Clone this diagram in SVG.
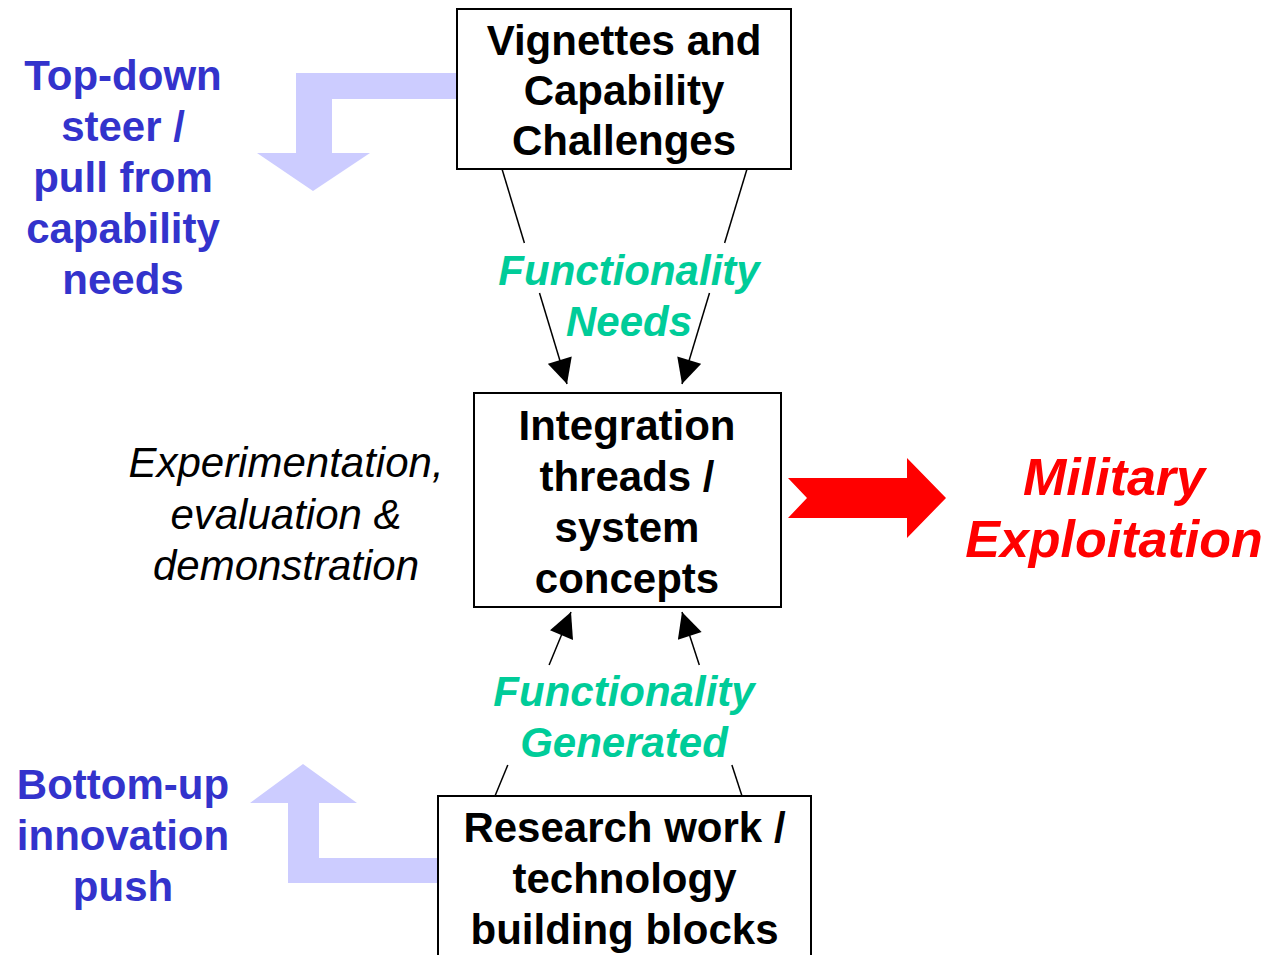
<svg xmlns="http://www.w3.org/2000/svg" width="1271" height="955" viewBox="0 0 1271 955">
<style>
.box{fill:#fff;stroke:#000;stroke-width:2}
.bt{font-family:"Liberation Sans",Arial,sans-serif;font-weight:bold;font-size:42px;fill:#000;text-anchor:middle}
.blue{font-family:"Liberation Sans",Arial,sans-serif;font-weight:bold;font-size:42px;fill:#3333CC;text-anchor:middle}
.green{font-family:"Liberation Sans",Arial,sans-serif;font-weight:bold;font-style:italic;font-size:42px;fill:#00CC99;text-anchor:middle}
.ital{font-family:"Liberation Sans",Arial,sans-serif;font-style:italic;font-size:42px;fill:#000;text-anchor:middle}
.red{font-family:"Liberation Sans",Arial,sans-serif;font-weight:bold;font-style:italic;font-size:52px;fill:#FF0000;text-anchor:middle}
.ln{stroke:#000;stroke-width:1.5;fill:none}
.big{fill:#CCCCFF}
</style>
<defs>
<marker id="ah" viewBox="0 0 10 10" refX="10" refY="5" markerWidth="27" markerHeight="25" markerUnits="userSpaceOnUse" orient="auto">
<path d="M0,0 L10,5 L0,10 z" fill="#000"/>
</marker>
</defs>
<rect width="1271" height="955" fill="#fff"/>
<g id="arrows">
<polygon class="big" points="456,73 296,73 296,153 257,153 313,191 370,153 332,153 332,99 456,99"/>
<polygon class="big" points="438,858 319,858 319,803 357,803 303,764 250,803 288,803 288,883 438,883"/>
<polygon fill="#FF0000" points="788,478 907,478 907,458 946,498 907,538 907,518 788,518 807,498"/>
</g>
<g id="connectors">
<line class="ln" x1="502" y1="169" x2="524.4" y2="243"/>
<line class="ln" x1="539.5" y1="293" x2="567" y2="384" marker-end="url(#ah)"/>
<line class="ln" x1="747" y1="169" x2="724.6" y2="243"/>
<line class="ln" x1="709.5" y1="293" x2="682" y2="384" marker-end="url(#ah)"/>
<line class="ln" x1="495" y1="796" x2="507.8" y2="765"/>
<line class="ln" x1="549.1" y1="665" x2="571" y2="612" marker-end="url(#ah)"/>
<line class="ln" x1="742" y1="796" x2="731.9" y2="765"/>
<line class="ln" x1="699.3" y1="665" x2="682" y2="612" marker-end="url(#ah)"/>
</g>
<g id="vignettes">
<rect class="box" x="457" y="9" width="334" height="160"/>
<text class="bt" x="624" y="55">Vignettes and</text>
<text class="bt" x="624" y="105">Capability</text>
<text class="bt" x="624" y="155">Challenges</text>
</g>
<g id="integration">
<rect class="box" x="474" y="393" width="307" height="214"/>
<text class="bt" x="627" y="440">Integration</text>
<text class="bt" x="627" y="491">threads /</text>
<text class="bt" x="627" y="542">system</text>
<text class="bt" x="627" y="593">concepts</text>
</g>
<g id="research">
<rect class="box" x="438" y="796" width="373" height="170"/>
<text class="bt" x="624.5" y="842">Research work /</text>
<text class="bt" x="624.5" y="893">technology</text>
<text class="bt" x="624.5" y="944">building blocks</text>
</g>
<g id="topdown">
<text class="blue" x="123" y="90">Top-down</text>
<text class="blue" x="123" y="141">steer /</text>
<text class="blue" x="123" y="192">pull from</text>
<text class="blue" x="123" y="243">capability</text>
<text class="blue" x="123" y="294">needs</text>
</g>
<g id="bottomup">
<text class="blue" x="123" y="799">Bottom-up</text>
<text class="blue" x="123" y="850">innovation</text>
<text class="blue" x="123" y="901">push</text>
</g>
<g id="needs">
<text class="green" x="629" y="285">Functionality</text>
<text class="green" x="629" y="336">Needs</text>
</g>
<g id="generated">
<text class="green" x="624" y="706">Functionality</text>
<text class="green" x="624" y="757">Generated</text>
</g>
<g id="experimentation">
<text class="ital" x="286" y="477">Experimentation,</text>
<text class="ital" x="286" y="529">evaluation &amp;</text>
<text class="ital" x="286" y="580">demonstration</text>
</g>
<g id="military">
<text class="red" x="1114" y="495">Military</text>
<text class="red" x="1114" y="557">Exploitation</text>
</g>
</svg>
